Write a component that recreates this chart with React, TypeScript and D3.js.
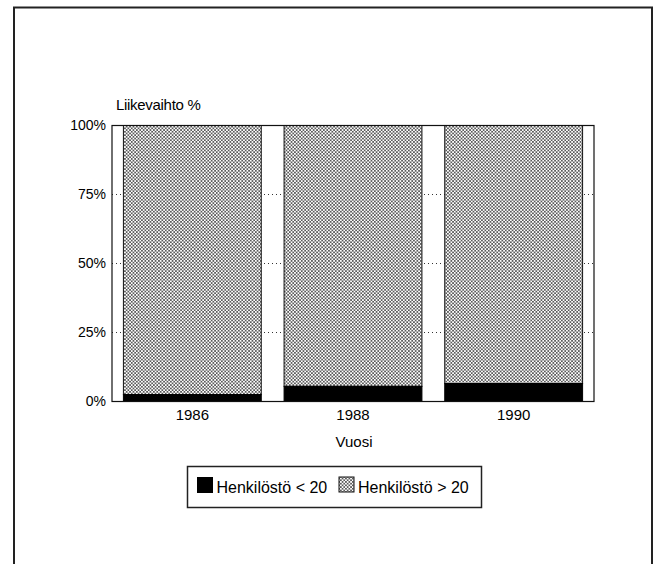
import React from "react";
import * as d3 from "d3";

const years = ["1986", "1988", "1990"];
const smallFirms = [2.5, 5.5, 6.5]; // Henkilöstö < 20
const largeFirms = [97.5, 94.5, 93.5]; // Henkilöstö > 20
const yTicks = [0, 25, 50, 75, 100];
const gridTicks = [25, 50, 75];
const legendLabels = ["Henkilöstö < 20", "Henkilöstö > 20"];

const W = 655;
const H = 564;
const FONT = "'Liberation Sans', Arial, Helvetica, sans-serif";

export default function App() {
  const left = 112;
  const right = 594;
  const top = 125.5;
  const bottom = 401.5;

  const x = d3
    .scaleBand<string>()
    .domain(years)
    .range([left, right])
    .paddingInner(0.142)
    .paddingOuter(0.071);
  const y = d3.scaleLinear().domain([0, 100]).range([bottom, top]);

  const stack = years.map((yr, i) => ({
    yr,
    small: smallFirms[i],
    large: largeFirms[i],
  }));

  return (
    <svg
      width={W}
      height={H}
      style={{ position: "absolute", left: 0, top: 0, background: "#fff" }}
      fontFamily={FONT}
    >
      <defs>
        <pattern id="stipple" width={3.4} height={3.4} patternUnits="userSpaceOnUse">
          <rect width={3.4} height={3.4} fill="#fff" />
          <circle cx={0.85} cy={0.85} r={0.85} fill="#222" />
          <circle cx={2.55} cy={2.55} r={0.85} fill="#222" />
        </pattern>
      </defs>

      {/* outer frame (open at the bottom) */}
      <path d={`M14,${H} L14,7.5 L652,7.5 L652,${H}`} fill="none" stroke="#222" strokeWidth={2} />

      {/* dotted gridlines */}
      {gridTicks.map((t) => (
        <line
          key={t}
          x1={left}
          x2={right}
          y1={y(t)}
          y2={y(t)}
          stroke="#333"
          strokeWidth={1}
          strokeDasharray="1,3"
        />
      ))}

      {/* bars */}
      {stack.map((d) => {
        const bx = x(d.yr)!;
        const bw = x.bandwidth();
        return (
          <g key={d.yr}>
            <rect
              x={bx}
              y={y(d.small + d.large)}
              width={bw}
              height={y(d.small) - y(d.small + d.large)}
              fill="url(#stipple)"
              stroke="#111"
              strokeWidth={1}
            />
            <rect
              x={bx}
              y={y(d.small)}
              width={bw}
              height={y(0) - y(d.small)}
              fill="#000"
              stroke="#000"
              strokeWidth={1}
            />
          </g>
        );
      })}

      {/* plot frame */}
      <rect
        x={left}
        y={top}
        width={right - left}
        height={bottom - top}
        fill="none"
        stroke="#111"
        strokeWidth={1.2}
      />

      {/* y ticks */}
      {yTicks.map((t) => (
        <text
          key={t}
          x={left - 6}
          y={y(t)}
          dy="0.35em"
          textAnchor="end"
          fontSize={14}
          fill="#000"
        >
          {t}%
        </text>
      ))}

      <text x={116} y={110} fontSize={15} fill="#000" letterSpacing={-0.3}>
        Liikevaihto %
      </text>

      {/* x ticks */}
      {years.map((yr) => (
        <text
          key={yr}
          x={x(yr)! + x.bandwidth() / 2}
          y={420}
          textAnchor="middle"
          fontSize={15}
          fill="#000"
        >
          {yr}
        </text>
      ))}

      <text x={(left + right) / 2 + 1} y={446.5} textAnchor="middle" fontSize={15} fill="#000">
        Vuosi
      </text>

      {/* legend */}
      <g>
        <rect x={187.5} y={466.5} width={294} height={41} fill="#fff" stroke="#222" strokeWidth={1.5} />
        <rect x={197} y={477} width={16} height={16} fill="#000" />
        <text x={216.5} y={492.5} fontSize={16} fill="#000">
          {legendLabels[0]}
        </text>
        <rect x={339} y={477} width={15} height={15} fill="url(#stipple)" stroke="#111" strokeWidth={1} />
        <text x={358} y={492.5} fontSize={16} fill="#000">
          {legendLabels[1]}
        </text>
      </g>
    </svg>
  );
}
